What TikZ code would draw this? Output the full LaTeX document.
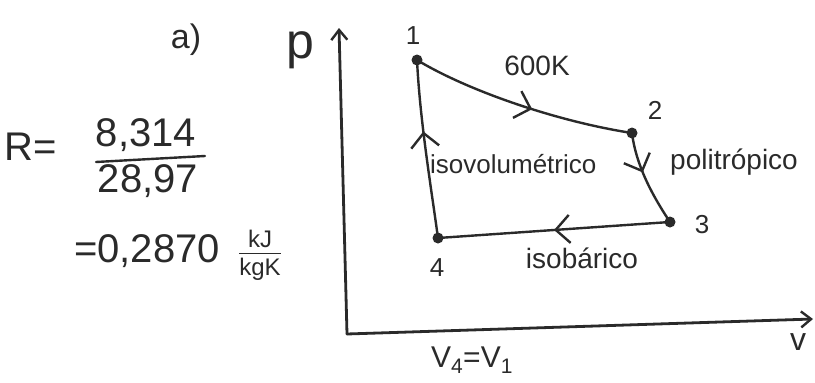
\documentclass[tikz,border=0pt]{standalone}
\usepackage{fontspec}
\setmainfont{Liberation Sans}
\usetikzlibrary{arrows.meta,decorations.markings}
\definecolor{ink}{HTML}{2A2A2A}
\begin{document}
\begin{tikzpicture}[x=1pt,y=-1pt,
  ink/.style={draw=ink, line width=2.4pt, line cap=round, line join=round},
  axis/.style={draw=ink, line width=2.8pt, line cap=round, -{Straight Barb[length=10pt,width=16pt,line width=2.4pt]}},
  dot/.style={circle, fill=ink, inner sep=0pt, minimum size=11pt},
  lbl/.style={text=ink, inner sep=0pt, font=\fontsize{28}{32}\selectfont},
  big/.style={text=ink, inner sep=0pt, font=\fontsize{40}{44}\selectfont},
  midarrow/.style={postaction={decorate}, decoration={markings,
     mark=at position #1 with {\arrow{Straight Barb[length=14pt,width=28pt,line width=2.4pt]}}}}]
\useasboundingbox (0,0) rectangle (815,383);
% axes
\coordinate (O) at (347,334);
\coordinate (ytop) at (339,28);
\coordinate (xend) at (813,319);
\draw[axis] (O) -- (ytop);
\draw[axis] (O) -- (xend);
% state points
\node[dot] (p1) at (417,60) {};
\node[dot] (p2) at (632,133) {};
\node[dot] (p3) at (670,222) {};
\node[dot] (p4) at (438,238) {};
% processes
\draw[ink, midarrow=0.55] (p1.center) .. controls (470,92) and (560,122) .. (p2.center);
\draw[ink, midarrow=0.42] (p2.center) .. controls (636,165) and (652,195) .. (p3.center);
\draw[ink, midarrow=0.5] (p3.center) -- (p4.center);
\draw[ink, midarrow=0.6] (p4.center) .. controls (430,180) and (420,120) .. (p1.center);
% point labels
\node[lbl, font=\fontsize{26}{30}\selectfont] (l1) at (413,36) {1};
\node[lbl, font=\fontsize{26}{30}\selectfont] (l2) at (655,110) {2};
\node[lbl, font=\fontsize{26}{30}\selectfont] (l3) at (702,225) {3};
\node[lbl, font=\fontsize{26}{30}\selectfont] (l4) at (437,268) {4};
% process labels
\node[lbl] (t12) at (537,66) {600K};
\node[lbl, anchor=west, font=\fontsize{26}{30}\selectfont] (t41) at (430,164) {isovolumétrico};
\node[lbl, anchor=west] (t23) at (670,162) {politrópico};
\node[lbl] (t34) at (582,258) {isobárico};
% axis labels
\node[text=ink, inner sep=0pt, font=\fontsize{50}{54}\selectfont] (py) at (300,50) {p};
\node[lbl, font=\fontsize{32}{36}\selectfont] (vx) at (798,342) {v};
\node[lbl, font=\fontsize{30}{34}\selectfont] (v41) at (472,360) {V\textsubscript{4}=V\textsubscript{1}};
% left side
\node[text=ink, inner sep=0pt, font=\fontsize{34}{38}\selectfont] (a) at (186,40) {a)};
\node[big, anchor=west] (R) at (4,147) {R=};
\node[big] (num) at (146,135) {8,314};
\node[big] (den) at (148,181) {28,97};
\draw[ink] (96,162) -- (205,156);
\node[big, anchor=west] (res) at (74,251) {=0,2870};
\node[text=ink, inner sep=0pt, font=\fontsize{24}{26}\selectfont] (unit) at (260,256)
  {\begin{tabular}{@{}c@{}}kJ\\[-2pt]\hline\rule{0pt}{22pt}kgK\end{tabular}};
\end{tikzpicture}
\end{document}
